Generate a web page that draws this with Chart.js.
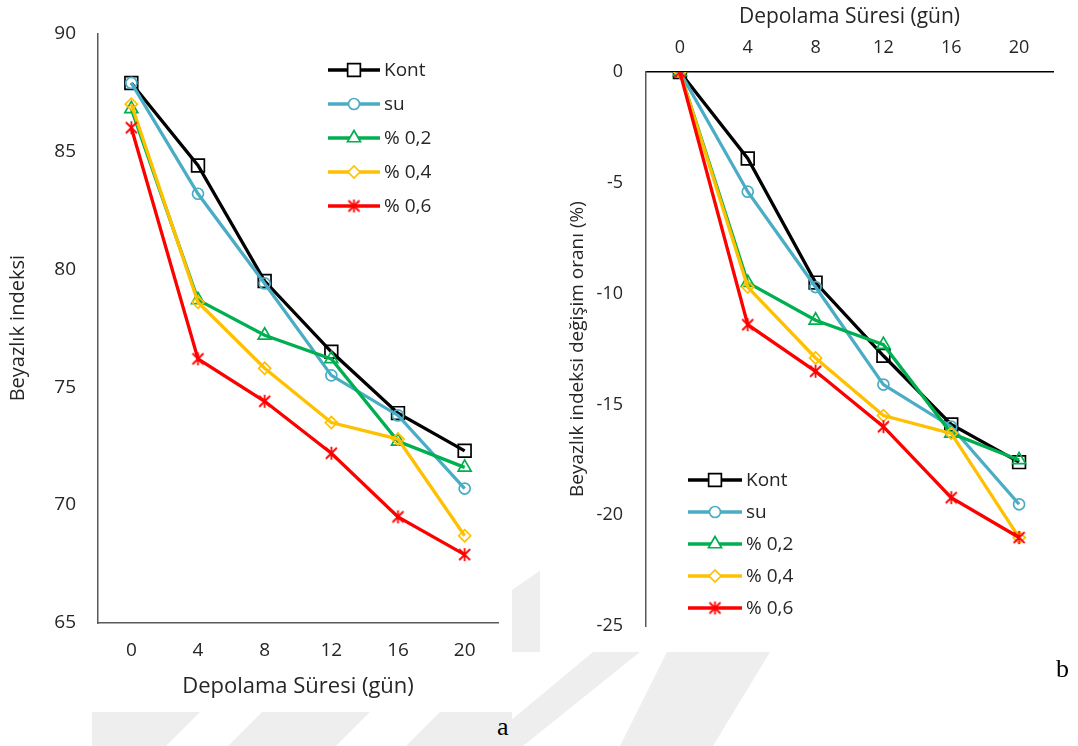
<!DOCTYPE html>
<html>
<head>
<meta charset="utf-8">
<script src="https://cdn.jsdelivr.net/npm/chart.js@4.4.1/dist/chart.umd.min.js"></script>
<style>
  html, body { margin: 0; padding: 0; background: #ffffff; }
  body { width: 1078px; height: 746px; position: relative; overflow: hidden; }
  #wm { position: absolute; left: 0; top: 0; }
  .box { position: absolute; background: #ffffff; }
  #boxA { left: 0; top: 0; width: 512px; height: 712px; }
  #boxB { left: 540px; top: 0; width: 538px; height: 652px; }
  #chartA { position: absolute; left: 0; top: 0; }
  #chartB { position: absolute; left: 0; top: 0; }
  .lbl { position: absolute; font-family: 'Liberation Serif', serif; font-size: 26px; color: #000; }
</style>
</head>
<body>
<svg id="wm" width="1078" height="746">
  <polygon points="92,712 512,712 512,746 92,746" fill="#eeeeee"/>
  <polygon points="200,712 262,712 228,746 166,746" fill="#ffffff"/>
  <polygon points="370,712 440,712 406,746 336,746" fill="#ffffff"/>
  <polygon points="512,590 548,565 548,652 512,652" fill="#eeeeee"/>
  <polygon points="593,652 640,652 523,746 480,746" fill="#eeeeee"/>
  <polygon points="667,652 770,652 713,746 620,746" fill="#eeeeee"/>
</svg>
<div class="box" id="boxA"><canvas id="chartA" width="512" height="712"></canvas></div>
<div class="box" id="boxB"><canvas id="chartB" width="538" height="660"></canvas></div>
<div class="lbl" style="left:497px; top:712px;">a</div>
<div class="lbl" style="left:1056px; top:654px;">b</div>
<script>
// ---- data ----
const days = ['0', '4', '8', '12', '16', '20'];
const seriesNames = ['Kont', 'su', '% 0,2', '% 0,4', '% 0,6'];

// Beyazlık indeksi (a)
const kontA = [87.9, 84.4, 79.5, 76.5, 73.9, 72.3];
const suA   = [87.9, 83.2, 79.4, 75.5, 73.8, 70.7];
const p02A  = [86.8, 78.7, 77.2, 76.2, 72.7, 71.6];
const p04A  = [87.0, 78.6, 75.8, 73.5, 72.8, 68.7];
const p06A  = [86.0, 76.2, 74.4, 72.2, 69.5, 67.9];

// Beyazlık indeksi değişim oranı % (b)
const kontB = [0, -3.9, -9.5, -12.8, -15.9, -17.6];
const suB   = [0, -5.4, -9.7, -14.1, -16.0, -19.5];
const p02B  = [0, -9.5, -11.2, -12.3, -16.3, -17.5];
const p04B  = [0, -9.7, -12.9, -15.5, -16.3, -21.0];
const p06B  = [0, -11.4, -13.5, -16.0, -19.2, -21.0];

const yTicksA = { min: 65, max: 90, step: 5 };
const yTicksB = { min: -25, max: 0, step: 5 };

// ---- styles ----
const FONT = '"Open Sans", Lato, sans-serif';
const TXT = '#262626';
const AXIS = '#595959';
const colors = ['#000000', '#4BACC6', '#00B050', '#FFC000', '#FF0000'];

function asterisk(color) {
  const c = document.createElement('canvas');
  c.width = 15; c.height = 15;
  const g = c.getContext('2d');
  g.strokeStyle = color; g.lineWidth = 1.8; g.lineCap = 'butt';
  g.beginPath();
  g.moveTo(2, 2); g.lineTo(13, 13);
  g.moveTo(13, 2); g.lineTo(2, 13);
  g.moveTo(7.5, 1); g.lineTo(7.5, 14);
  g.stroke();
  return c;
}
const markers = [
  { pointStyle: 'rect', pointRadius: 9 },
  { pointStyle: 'circle', pointRadius: 5.5 },
  { pointStyle: 'triangle', pointRadius: 7.5 },
  { pointStyle: 'rectRot', pointRadius: 6 },
  { pointStyle: asterisk('#FF0000'), pointRadius: 7 }
];

function makeDatasets(arrs) {
  return arrs.map((d, i) => ({
    label: seriesNames[i],
    data: d,
    borderColor: colors[i],
    backgroundColor: '#ffffff',
    borderWidth: 3.3,
    pointBorderColor: colors[i],
    pointBackgroundColor: 'rgba(255,255,255,0)',
    pointBorderWidth: 1.7,
    pointStyle: markers[i].pointStyle,
    pointRadius: markers[i].pointRadius,
    pointHoverRadius: markers[i].pointRadius,
    tension: 0,
    order: 5 - i
  }));
}

// custom legend (line + marker + text) drawn with Chart.js helpers
const lineLegend = {
  id: 'lineLegend',
  afterDraw(chart, args, opts) {
    const ctx = chart.ctx;
    ctx.save();
    chart.data.datasets.forEach((ds, i) => {
      const y = opts.y + i * opts.dy;
      ctx.strokeStyle = ds.borderColor;
      ctx.lineWidth = 3.3;
      ctx.beginPath();
      ctx.moveTo(opts.x, y);
      ctx.lineTo(opts.x + opts.len, y);
      ctx.stroke();
      ctx.fillStyle = '#ffffff';
      ctx.strokeStyle = ds.pointBorderColor;
      ctx.lineWidth = ds.pointBorderWidth;
      Chart.helpers.drawPoint(ctx, { pointStyle: ds.pointStyle, radius: ds.pointRadius, borderWidth: ds.pointBorderWidth, rotation: 0 }, opts.x + opts.len / 2, y);
      ctx.fillStyle = TXT;
      ctx.font = opts.font + 'px ' + FONT;
      ctx.textBaseline = 'middle';
      ctx.textAlign = 'left';
      ctx.fillText(ds.label, opts.x + opts.len + 4, y + 1);
    });
    ctx.restore();
  }
};

Chart.defaults.font.family = FONT;
Chart.defaults.color = TXT;
Chart.defaults.animation = false;

// ---- chart a ----
new Chart(document.getElementById('chartA'), {
  type: 'line',
  data: { labels: days, datasets: makeDatasets([kontA, suA, p02A, p04A, p06A]) },
  plugins: [lineLegend],
  options: {
    responsive: false,
    events: [],
    layout: { padding: { top: 33, right: 14, left: 0, bottom: 0 } },
    plugins: {
      legend: { display: false },
      tooltip: { enabled: false },
      lineLegend: { x: 328, y: 70, dy: 34, len: 52, font: 19 }
    },
    scales: {
      x: {
        type: 'category', offset: true, position: 'bottom',
        grid: { display: false, drawTicks: false },
        border: { display: true, color: AXIS, width: 1.5 },
        ticks: { padding: 16, font: { size: 19 }, color: TXT, maxRotation: 0 },
        title: { display: true, text: 'Depolama Süresi (gün)', font: { size: 22 }, color: TXT, padding: { top: 0, bottom: 12 } },
        afterFit(s) { s.height = 89; }
      },
      y: {
        min: yTicksA.min, max: yTicksA.max,
        grid: { display: false, drawTicks: false },
        border: { display: true, color: AXIS, width: 1.5 },
        ticks: { stepSize: yTicksA.step, padding: 22, font: { size: 19 }, color: TXT },
        title: { display: true, text: 'Beyazlık indeksi', font: { size: 20 }, color: TXT, padding: { top: 6, bottom: 0 } },
        afterFit(s) { s.width = 98; }
      }
    }
  }
});

// ---- chart b ----
new Chart(document.getElementById('chartB'), {
  type: 'line',
  data: { labels: days, datasets: makeDatasets([kontB, suB, p02B, p04B, p06B]) },
  plugins: [lineLegend],
  options: {
    responsive: false,
    events: [],
    layout: { padding: { top: 0, right: 25, left: 0, bottom: 23 } },
    plugins: {
      legend: { display: false },
      tooltip: { enabled: false },
      lineLegend: { x: 148, y: 480, dy: 32, len: 54, font: 19 }
    },
    scales: {
      x: {
        type: 'category', offset: true, position: 'top',
        grid: { display: false, drawTicks: false },
        border: { display: true, color: '#000000', width: 1.5 },
        ticks: { padding: 13, font: { size: 18 }, color: TXT, maxRotation: 0 },
        title: { display: true, text: 'Depolama Süresi (gün)', font: { size: 21 }, color: TXT, padding: { top: 4, bottom: 0 } },
        afterFit(s) { s.height = 72; }
      },
      y: {
        min: yTicksB.min, max: yTicksB.max,
        grid: { display: false, drawTicks: false },
        border: { display: true, color: AXIS, width: 1.5 },
        ticks: { stepSize: yTicksB.step, padding: 23, font: { size: 18 }, color: TXT },
        title: { display: true, text: 'Beyazlık indeksi değişim oranı (%)', font: { size: 19 }, color: TXT, padding: { top: 26, bottom: 0 } },
        afterFit(s) { s.width = 106; }
      }
    }
  }
});
</script>
</body>
</html>
